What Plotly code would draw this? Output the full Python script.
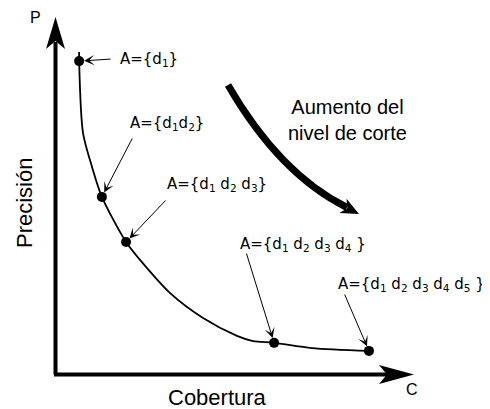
'''
    Curva precisión / cobertura con los conjuntos de respuesta A.
'''
import plotly.graph_objects as go

# puntos marcados sobre la curva (cobertura, precisión)
cobertura = [0.069, 0.134, 0.203, 0.626, 0.897]
precision = [0.894, 0.506, 0.377, 0.089, 0.066]

# trazo de la curva
curva_cob = [0.069, 0.069, 0.080, 0.106, 0.134, 0.203, 0.243, 0.329, 0.423, 0.520, 0.566, 0.626, 0.734, 0.897]
curva_pre = [0.920, 0.894, 0.689, 0.591, 0.506, 0.377, 0.326, 0.231, 0.160, 0.109, 0.094, 0.089, 0.074, 0.066]

etiquetas = [
    'A={d<sub>1</sub>}',
    'A={d<sub>1</sub>d<sub>2</sub>}',
    'A={d<sub>1</sub> d<sub>2</sub> d<sub>3</sub>}',
    'A={d<sub>1</sub> d<sub>2</sub> d<sub>3</sub> d<sub>4</sub> }',
    'A={d<sub>1</sub> d<sub>2</sub> d<sub>3</sub> d<sub>4</sub> d<sub>5</sub> }',
]

OFF = 8                      # margen del body de la pagina
W, H = 490 - OFF, 409 - OFF
X0, Y0, S = 55, 374, 350     # origen de los ejes y escala en pixeles


def d(px, py):
    ''' pixel de la figura de referencia -> coordenadas de datos '''
    return (px - X0) / S, (Y0 - py) / S


def poly(points):
    pts = [d(*p) for p in points]
    return 'M' + ' L'.join(f'{x},{y}' for x, y in pts) + ' Z'


fig = go.Figure()

fig.add_trace(go.Scatter(x=curva_cob, y=curva_pre, mode='lines',
                         line=dict(color='black', width=1.8, shape='spline', smoothing=0.8),
                         hoverinfo='skip'))
fig.add_trace(go.Scatter(x=cobertura, y=precision, mode='markers',
                         marker=dict(color='black', size=10)))

shapes = []
# ejes
x_a, y_a = d(55.5, 374.5)
x_b, y_b = d(55.5, 42)
shapes.append(dict(type='line', x0=x_a, y0=y_a, x1=x_b, y1=y_b, line=dict(color='black', width=4)))
x_b, y_b = d(388, 374.5)
shapes.append(dict(type='line', x0=d(54, 374.5)[0], y0=y_a, x1=x_b, y1=y_b, line=dict(color='black', width=4)))
shapes.append(dict(type='path', path=poly([(55.5, 17), (46, 49), (55.5, 41), (65, 49)]),
                   fillcolor='black', line=dict(width=0)))
shapes.append(dict(type='path', path=poly([(414, 374.5), (379, 365), (387, 374.5), (379, 384)]),
                   fillcolor='black', line=dict(width=0)))

# flecha curva "Aumento del nivel de corte"
p0, c, p1 = d(228, 85), d(279.5, 174), d(347, 207.5)
shapes.append(dict(type='path', path=f'M{p0[0]},{p0[1]} Q{c[0]},{c[1]} {p1[0]},{p1[1]}',
                   line=dict(color='black', width=7)))
tip = (359, 214)
ux, uy = 0.893, 0.45
nx, ny = -uy, ux
back = (tip[0] - 18 * ux, tip[1] - 18 * uy)
notch = (tip[0] - 13 * ux, tip[1] - 13 * uy)
shapes.append(dict(type='path',
                   path=poly([tip, (back[0] + 8 * nx, back[1] + 8 * ny), notch,
                              (back[0] - 8 * nx, back[1] - 8 * ny)]),
                   fillcolor='black', line=dict(width=0)))

annotations = []
# flechas finas hacia cada punto
colas = [(112, 59), (133, 137), (167, 199), (246, 252), (344, 293)]
for (cx, cy), xv, yv in zip(colas, cobertura, precision):
    ax, ay = d(cx, cy)
    annotations.append(dict(x=xv, y=yv, ax=ax, ay=ay, axref='x', ayref='y', text='',
                            showarrow=True, arrowhead=3, arrowsize=1.7, arrowwidth=1,
                            arrowcolor='black', standoff=5))

pos_etiquetas = [(118, 59), (128, 123), (165, 184), (238, 244), (336, 284)]
for (tx, ty), txt in zip(pos_etiquetas, etiquetas):
    x, y = d(tx, ty)
    annotations.append(dict(x=x, y=y, text=txt, showarrow=False, xanchor='left', yanchor='middle',
                            font=dict(family='DejaVu Sans', size=15, color='black')))

fuente = dict(family='Liberation Sans, Arial', color='black')
for (tx, ty), txt, size, ang in [((347, 120), 'Aumento del<br>nivel de corte', 20, 0),
                                ((217, 397), 'Cobertura', 22, 0),
                                ((24, 203), 'Precisión', 22, -90),
                                ((35, 17), 'P', 16, 0),
                                ((412, 389), 'C', 16, 0)]:
    x, y = d(tx, ty)
    annotations.append(dict(x=x, y=y, text=txt, showarrow=False, textangle=ang,
                            xanchor='center', yanchor='middle', align='center',
                            font=dict(size=size, **fuente)))

fig.update_layout(
    width=W, height=H, autosize=False,
    margin=dict(l=0, r=0, t=0, b=0),
    paper_bgcolor='white', plot_bgcolor='white',
    showlegend=False, dragmode=False,
    shapes=shapes, annotations=annotations,
    xaxis=dict(visible=False, range=[(OFF - X0) / S, (OFF + W - X0) / S], fixedrange=True),
    yaxis=dict(visible=False, range=[(Y0 - OFF - H) / S, (Y0 - OFF) / S], fixedrange=True),
)

fig.write_html('out.html', config=dict(displayModeBar=False))
